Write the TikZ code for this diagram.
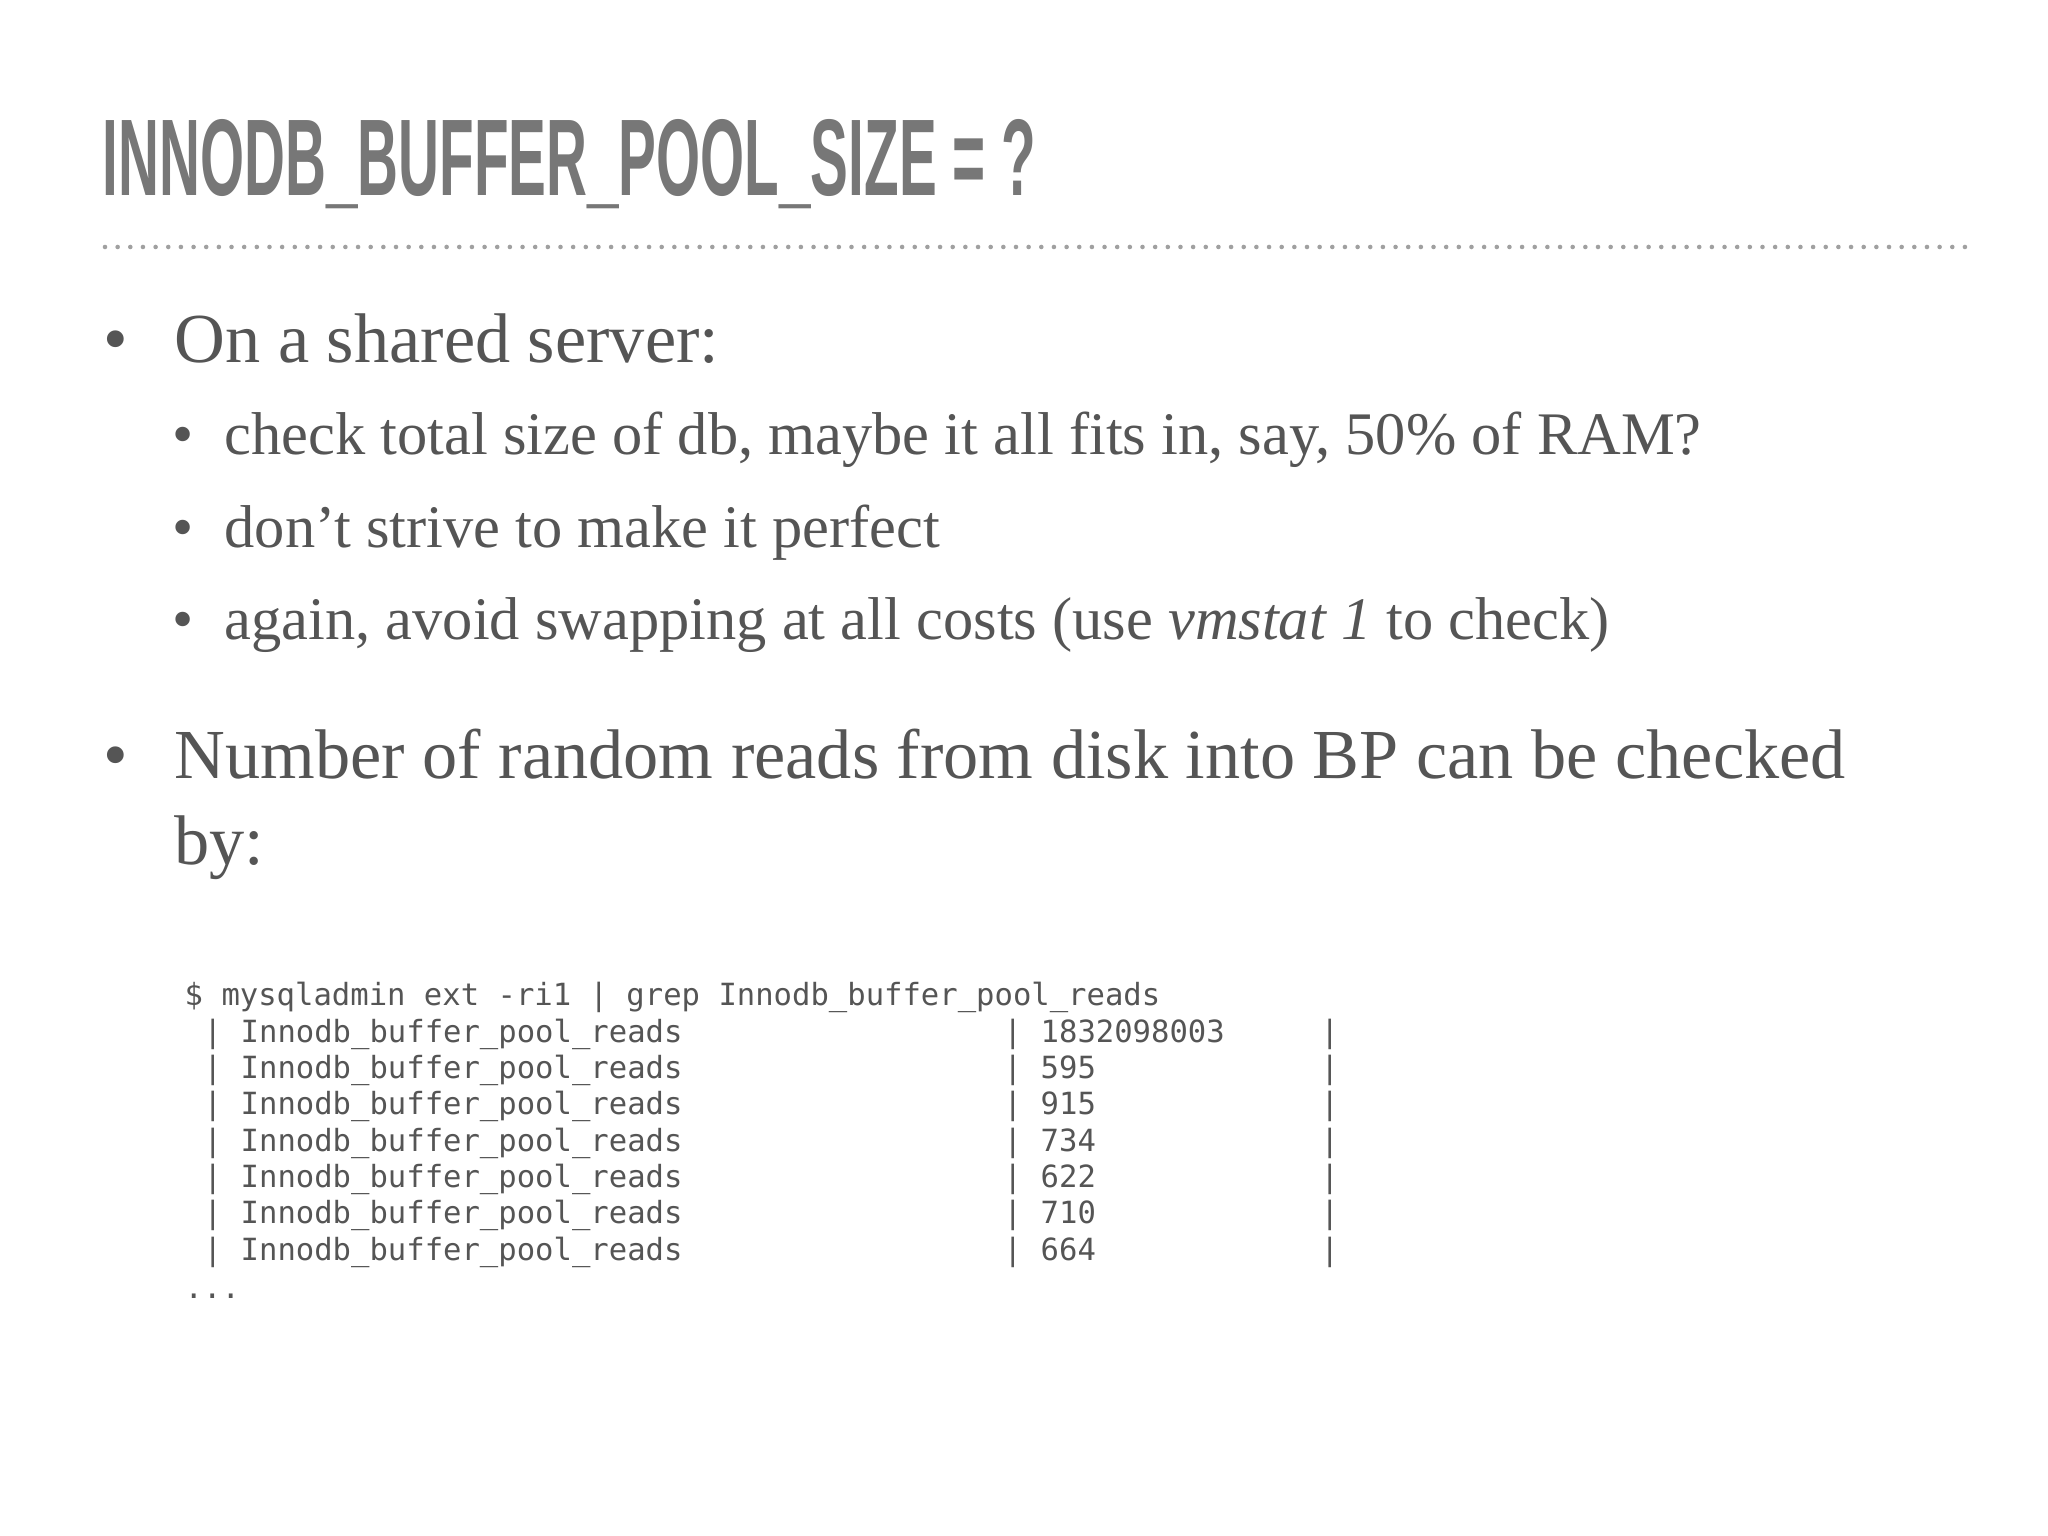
\documentclass[tikz,border=0pt]{standalone}
\usepackage{fontspec}
\setmainfont{Liberation Serif}
\newfontfamily\titlefont[FakeStretch=0.52]{Liberation Sans Bold}
\newfontfamily\codefont{DejaVu Sans Mono}
\definecolor{bodygray}{HTML}{555555}
\definecolor{titlegray}{HTML}{777777}
\tikzset{
	txt/.style = {anchor=base west, inner sep=0pt, text=bodygray},
	mainitem/.style = {txt, font=\fontsize{20}{24}\selectfont},
	subitem/.style = {txt, font=\fontsize{17.2}{20}\selectfont},
	codeline/.style = {txt, font=\codefont\fontsize{8.7}{10}\selectfont},
	dotline/.style = {draw=titlegray!70, line width=1.3pt, line cap=round, dash pattern=on 0pt off 3.6pt}
}
\begin{document}
\begin{tikzpicture}
	\useasboundingbox[fill=white] (0,0) rectangle (20.48,15.36);
	
	% title
	\node [txt, text=titlegray, font=\titlefont\fontsize{31}{36}\selectfont] (title) at (1.02,13.40) {INNODB\_BUFFER\_POOL\_SIZE = ?};
	\coordinate (rulel) at (1.05,12.89);
	\coordinate (ruler) at (19.69,12.89);
	\path [dotline] (rulel) -- (ruler);
	
	% bullets
	\node [mainitem] (b1) at (1.74,11.73) {On a shared server:};
	\node [mainitem, anchor=base east] (d1) at ([xshift=-0.45cm]b1.base west) {•};
	\node [subitem] (s1) at (2.24,10.81) {check total size of db, maybe it all fits in, say, 50\% of RAM?};
	\node [subitem] (s2) at (2.24,9.88) {don’t strive to make it perfect};
	\node [subitem] (s3) at (2.24,8.96) {again, avoid swapping at all costs (use \textit{vmstat 1} to check)};
	\foreach \s in {s1,s2,s3}
		\node [subitem, anchor=base east] at ([xshift=-0.3cm]\s.base west) {•};
	\node [mainitem] (b2) at (1.74,7.57) {Number of random reads from disk into BP can be checked};
	\node [mainitem] (b2b) at (1.74,6.71) {by:};
	\node [mainitem, anchor=base east] (d2) at ([xshift=-0.45cm]b2.base west) {•};
	
	% code
	\node [codeline] (cmd) at (1.84,5.30) {\$ mysqladmin ext -ri1 | grep Innodb\_buffer\_pool\_reads};
	\foreach \v [count=\i] in {1832098003,595,915,734,622,710,664} {
		\node [codeline] (p\i) at (2.03,{5.30-0.363*\i}) {|};
		\node [codeline] (n\i) at (2.40,{5.30-0.363*\i}) {Innodb\_buffer\_pool\_reads};
		\node [codeline] (q\i) at (10.03,{5.30-0.363*\i}) {|};
		\node [codeline] (v\i) at (10.40,{5.30-0.363*\i}) {\v};
		\node [codeline] (r\i) at (13.20,{5.30-0.363*\i}) {|};
	}
	\node [codeline] (dots) at (1.84,2.37) {...};
\end{tikzpicture}
\end{document}
